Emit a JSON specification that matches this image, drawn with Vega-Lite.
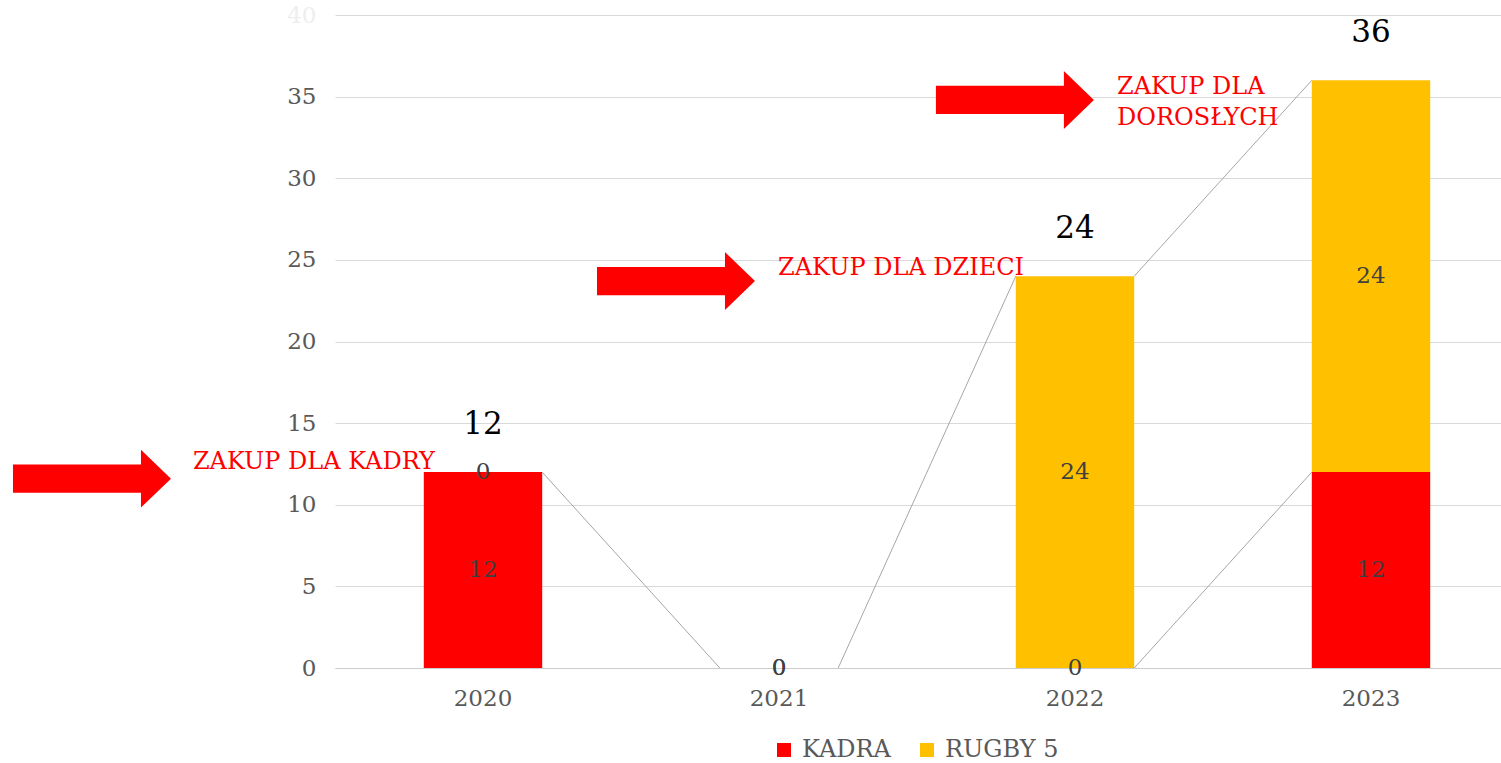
{
  "$schema": "https://vega.github.io/schema/vega-lite/v6.json",
  "width": 1166,
  "height": 653,
  "autosize": {"type": "none"},
  "padding": {"left": 335, "top": 15, "right": 0, "bottom": 95},
  "background": "white",
  "config": {"view": {"stroke": null}, "font": "DejaVu Serif"},
  "datasets": {
    "bars": [
      {"year": "2020", "series": "KADRA", "value": 12, "ord": 1},
      {"year": "2020", "series": "RUGBY 5", "value": 0, "ord": 2},
      {"year": "2021", "series": "KADRA", "value": 0, "ord": 1},
      {"year": "2021", "series": "RUGBY 5", "value": 0, "ord": 2},
      {"year": "2022", "series": "KADRA", "value": 0, "ord": 1},
      {"year": "2022", "series": "RUGBY 5", "value": 24, "ord": 2},
      {"year": "2023", "series": "KADRA", "value": 12, "ord": 1},
      {"year": "2023", "series": "RUGBY 5", "value": 24, "ord": 2}
    ],
    "totals": [
      {"year": "2020", "total": 12},
      {"year": "2021", "total": 0},
      {"year": "2022", "total": 24},
      {"year": "2023", "total": 36}
    ],
    "lines": [
      {"from": "2020", "to": "2021", "y0": 12, "y1": 0},
      {"from": "2021", "to": "2022", "y0": 0, "y1": 24},
      {"from": "2022", "to": "2023", "y0": 24, "y1": 36},
      {"from": "2022", "to": "2023", "y0": 0, "y1": 12}
    ],
    "arrows": [
      {"ax": -0.821, "ay": 11.6},
      {"ax": 1.152, "ay": 23.7},
      {"ax": 2.297, "ay": 34.8}
    ],
    "notes": [
      {"ax": -0.48, "ay": 12.6, "label": "ZAKUP DLA KADRY"},
      {"ax": 1.497, "ay": 24.5, "label": "ZAKUP DLA DZIECI"},
      {"ax": 2.642, "ay": 35.6, "label": "ZAKUP DLA\nDOROSŁYCH"}
    ]
  },
  "layer": [
    {
      "layer": [
        {
          "data": {"name": "bars"},
          "mark": {"type": "bar"},
          "encoding": {
            "x": {
              "field": "year", "type": "nominal",
              "scale": {"domain": ["2020", "2021", "2022", "2023"], "range": [0, 1184], "paddingInner": 0.6, "paddingOuter": 0.3},
              "axis": {"title": null, "labelAngle": 0, "ticks": false, "labelPadding": 19, "labelFontSize": 23, "labelColor": "#595959", "labelFont": "DejaVu Serif", "domainColor": "#cccccc"}
            },
            "y": {
              "field": "value", "type": "quantitative", "stack": "zero", "title": null,
              "scale": {"domain": [0, 40], "nice": false},
              "axis": {"values": [0, 5, 10, 15, 20, 25, 30, 35, 40], "grid": true, "gridColor": "#d9d9d9", "domain": false, "ticks": false, "labelPadding": 19, "labelFontSize": 23, "labelFont": "DejaVu Serif", "labelColor": {"condition": {"test": "datum.value == 40", "value": "#eeeeee"}, "value": "#595959"}}
            },
            "color": {
              "field": "series", "type": "nominal",
              "scale": {"domain": ["KADRA", "RUGBY 5"], "range": ["#ff0000", "#ffc000"]},
              "legend": {"orient": "none", "legendX": 437, "legendY": 723, "direction": "horizontal", "title": null, "symbolType": "square", "symbolSize": 196, "symbolStrokeWidth": 0, "labelFontSize": 24, "labelColor": "#595959", "labelFont": "DejaVu Serif", "columnPadding": 24, "labelOffset": 6}
            },
            "order": {"field": "ord", "type": "quantitative"}
          }
        },
        {
          "data": {"name": "lines"},
          "mark": {"type": "rule", "color": "#a6a6a6", "strokeWidth": 1},
          "encoding": {
            "x": {"field": "from", "type": "nominal", "bandPosition": 1, "scale": {"domain": ["2020", "2021", "2022", "2023"], "range": [0, 1184], "paddingInner": 0.6, "paddingOuter": 0.3}},
            "x2": {"field": "to", "bandPosition": 0},
            "y": {"field": "y0", "type": "quantitative", "title": null},
            "y2": {"field": "y1"}
          }
        },
        {
          "data": {"name": "bars"},
          "transform": [
            {"stack": "value", "groupby": ["year"], "sort": [{"field": "ord", "order": "ascending"}], "as": ["v0", "v1"]},
            {"calculate": "(datum.v0 + datum.v1) / 2", "as": "mid"}
          ],
          "mark": {"type": "text", "fontSize": 23, "color": "#404040", "baseline": "middle", "font": "DejaVu Serif"},
          "encoding": {
            "x": {"field": "year", "type": "nominal", "scale": {"domain": ["2020", "2021", "2022", "2023"], "range": [0, 1184], "paddingInner": 0.6, "paddingOuter": 0.3}},
            "y": {"field": "mid", "type": "quantitative", "title": null},
            "text": {"field": "value", "type": "quantitative"}
          }
        },
        {
          "data": {"name": "totals"},
          "transform": [{"filter": "datum.total > 0"}],
          "mark": {"type": "text", "fontSize": 31, "color": "#000000", "baseline": "middle", "dy": -47, "font": "DejaVu Serif"},
          "encoding": {
            "x": {"field": "year", "type": "nominal", "scale": {"domain": ["2020", "2021", "2022", "2023"], "range": [0, 1184], "paddingInner": 0.6, "paddingOuter": 0.3}},
            "y": {"field": "total", "type": "quantitative", "title": null},
            "text": {"field": "total", "type": "quantitative"}
          }
        }
      ]
    },
    {
      "layer": [
        {
          "data": {"name": "arrows"},
          "mark": {"type": "point", "shape": "M-1,-0.18L0.62,-0.18L0.62,-0.367L1,0L0.62,0.367L0.62,0.18L-1,0.18Z", "size": 24964, "filled": true, "color": "#ff0000", "opacity": 1, "strokeWidth": 0},
          "encoding": {
            "x": {"field": "ax", "type": "quantitative", "scale": {"domain": [0, 4], "range": [0, 1184], "nice": false, "zero": false}, "axis": null},
            "y": {"field": "ay", "type": "quantitative", "title": null}
          }
        },
        {
          "data": {"name": "notes"},
          "mark": {"type": "text", "align": "left", "baseline": "middle", "color": "#ff0000", "fontSize": 24, "font": "DejaVu Serif", "lineBreak": "\n", "lineHeight": 31},
          "encoding": {
            "x": {"field": "ax", "type": "quantitative", "scale": {"domain": [0, 4], "range": [0, 1184], "nice": false, "zero": false}, "axis": null},
            "y": {"field": "ay", "type": "quantitative", "title": null},
            "text": {"field": "label", "type": "nominal"}
          }
        }
      ]
    }
  ],
  "resolve": {"scale": {"x": "independent"}}
}
